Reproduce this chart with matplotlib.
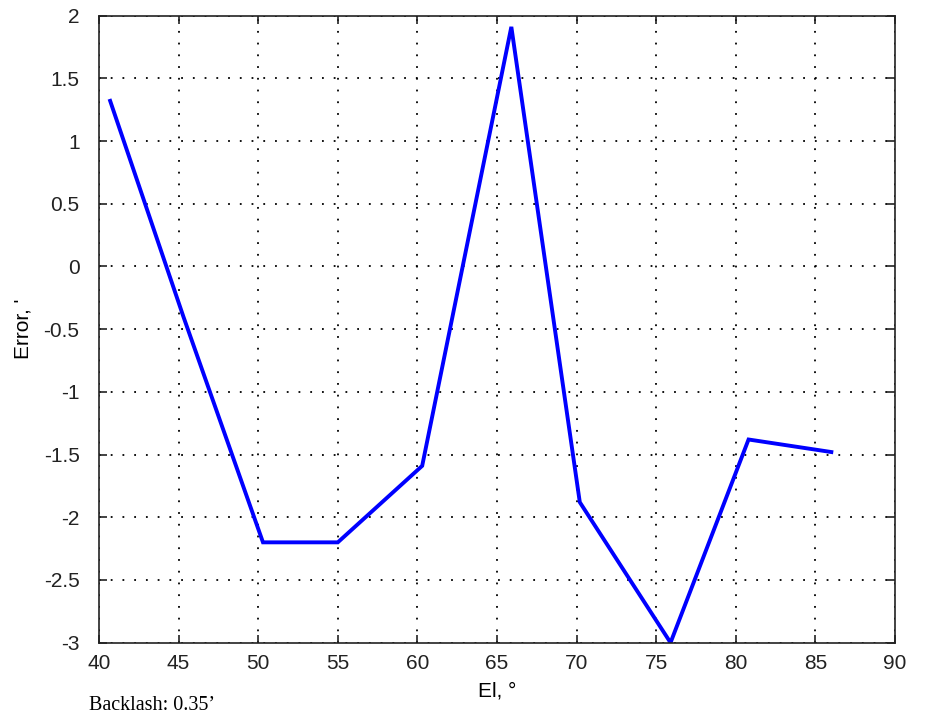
import matplotlib
matplotlib.use('Agg')
import matplotlib.pyplot as plt

# elevation (deg) vs pointing error (arcmin)
el = [40.7, 45.3, 50.3, 55.0, 60.3, 65.9, 70.2, 75.9, 80.8, 86.0]
err = [1.32, -0.40, -2.20, -2.20, -1.59, 1.91, -1.88, -3.00, -1.38, -1.48]

xticks = [40, 45, 50, 55, 60, 65, 70, 75, 80, 85, 90]
yticks = [-3, -2.5, -2, -1.5, -1, -0.5, 0, 0.5, 1, 1.5, 2]
ytick_labels = ['-3', '-2.5', '-2', '-1.5', '-1', '-0.5', '0', '0.5', '1', '1.5', '2']
note = "Backlash: 0.35\u2019"

plt.rcParams['font.family'] = ['Liberation Sans', 'DejaVu Sans']

fig = plt.figure(figsize=(9.27, 7.18), dpi=100)
ax = fig.add_axes([0.1068, 0.1049, 0.8587, 0.8734])

ax.plot(el, err, color='#0000ff', linewidth=2.8, solid_joinstyle='miter')

ax.set_xlim(40, 90)
ax.set_ylim(-3, 2)
ax.set_xticks(xticks)
ax.set_yticks(yticks)
ax.set_yticklabels(ytick_labels)
ax.grid(True, linestyle=(0, (1, 5.5)), color='black', linewidth=1.3)
ax.tick_params(direction='in', length=6, width=1.2, top=True, right=True,
               labelsize=15, colors='#222222')
ax.tick_params(axis='y', pad=14)
ax.tick_params(axis='x', pad=8)
for s in ax.spines.values():
    s.set_linewidth(1.2)
    s.set_color('#222222')

ax.set_xlabel('El, \u00b0', fontsize=15, labelpad=6)
ax.set_ylabel("Error, '", fontsize=15, labelpad=8)

fig.text(89 / 927, 1 - 706 / 718, note, fontsize=14.5, family='Liberation Serif',
         va='center', ha='left')

fig.savefig('out.png', dpi=100)
